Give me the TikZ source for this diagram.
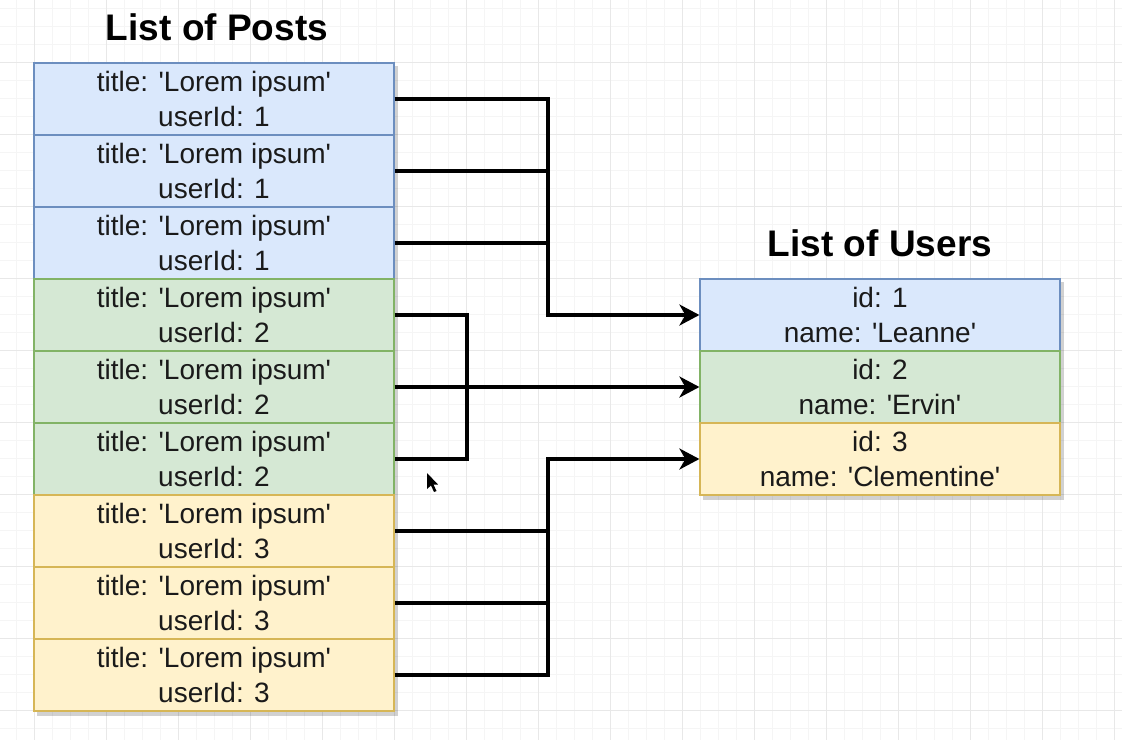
\documentclass[tikz,border=0pt]{standalone}
\usepackage{fontspec}
\setmainfont{Liberation Sans}[Ligatures=TeXOff]
\usetikzlibrary{arrows.meta}
\definecolor{bluefill}{HTML}{DAE8FC}
\definecolor{bluedraw}{HTML}{6C8EBF}
\definecolor{greenfill}{HTML}{D5E8D4}
\definecolor{greendraw}{HTML}{82B366}
\definecolor{yellowfill}{HTML}{FFF2CC}
\definecolor{yellowdraw}{HTML}{D6B656}
\definecolor{gridminor}{HTML}{F5F5F5}
\definecolor{gridmajor}{HTML}{E8E8E8}
\definecolor{txt}{HTML}{1A1A1A}
\tikzset{
  gminor/.style={draw=gridminor, line width=0.8pt},
  gmajor/.style={draw=gridmajor, line width=1pt},
  rowbox/.style={rectangle, minimum width=360pt, minimum height=72pt, inner sep=0pt,
    align=center, text=txt, font=\fontsize{28}{35}\selectfont, line width=1.2pt},
  bluebox/.style={rowbox, fill=bluefill, draw=bluedraw},
  greenbox/.style={rowbox, fill=greenfill, draw=greendraw},
  yellowbox/.style={rowbox, fill=yellowfill, draw=yellowdraw},
  heading/.style={font=\bfseries\fontsize{37}{40}\selectfont, text=black, inner sep=0pt},
  link/.style={draw=black, line width=3.3pt},
  arrowlink/.style={link, -{Stealth[length=20pt, width=21pt, inset=6pt]}},
  shadowbox/.style={fill=black, opacity=0.18}
}
\begin{document}
\begin{tikzpicture}[x=1pt, y=-1pt]
\useasboundingbox (0,0) rectangle (1122,740);
\fill[white] (0,0) rectangle (1122,740);
% grid
\foreach \i in {0,...,62} {\draw[gminor] ({-2+18*\i},0) -- ({-2+18*\i},740);}
\foreach \j in {0,...,41} {\draw[gminor] (0,{8+18*\j}) -- (1122,{8+18*\j});}
\foreach \i in {0,...,15} {\draw[gmajor] ({34+72*\i},0) -- ({34+72*\i},740);}
\foreach \j in {-1,...,10} {\draw[gmajor] (0,{62+72*\j}) -- (1122,{62+72*\j});}
% shadows
\fill[shadowbox] (37,66) rectangle (398,716);
\fill[shadowbox] (703,282) rectangle (1064,500);
% headings
\node[heading] (hp) at (217,27) {List of Posts};
\node[heading] (hu) at (880,243) {List of Users};
% posts
\node[bluebox]   (p1) at (214,99)  {title: 'Lorem ipsum'\\userId: 1};
\node[bluebox]   (p2) at (214,171) {title: 'Lorem ipsum'\\userId: 1};
\node[bluebox]   (p3) at (214,243) {title: 'Lorem ipsum'\\userId: 1};
\node[greenbox]  (p4) at (214,315) {title: 'Lorem ipsum'\\userId: 2};
\node[greenbox]  (p5) at (214,387) {title: 'Lorem ipsum'\\userId: 2};
\node[greenbox]  (p6) at (214,459) {title: 'Lorem ipsum'\\userId: 2};
\node[yellowbox] (p7) at (214,531) {title: 'Lorem ipsum'\\userId: 3};
\node[yellowbox] (p8) at (214,603) {title: 'Lorem ipsum'\\userId: 3};
\node[yellowbox] (p9) at (214,675) {title: 'Lorem ipsum'\\userId: 3};
% users
\node[bluebox]   (u1) at (880,315) {id: 1\\name: 'Leanne'};
\node[greenbox]  (u2) at (880,387) {id: 2\\name: 'Ervin'};
\node[yellowbox] (u3) at (880,459) {id: 3\\name: 'Clementine'};
% junctions
\coordinate (jb) at (548,315);
\coordinate (jg) at (467,387);
\coordinate (jy) at (548,459);
% connectors
\draw[link] (p2.east) -- (p2.east -| jb);
\draw[link] (p3.east) -- (p3.east -| jb);
\draw[arrowlink] (p1.east) -| (jb) -- (u1.west);
\draw[link] (p4.east) -| (jg) |- (p6.east);
\draw[arrowlink] (p5.east) -- (u2.west);
\draw[link] (p7.east) -- (p7.east -| jy);
\draw[link] (p8.east) -- (p8.east -| jy);
\draw[arrowlink] (p9.east) -| (jy) -- (u3.west);
% mouse cursor
\fill[black] (427,473) -- (427,489) -- (431,485.5) -- (434,492) -- (436.5,491) -- (433.5,484.5) -- (438,484.5) -- cycle;
\end{tikzpicture}
\end{document}
